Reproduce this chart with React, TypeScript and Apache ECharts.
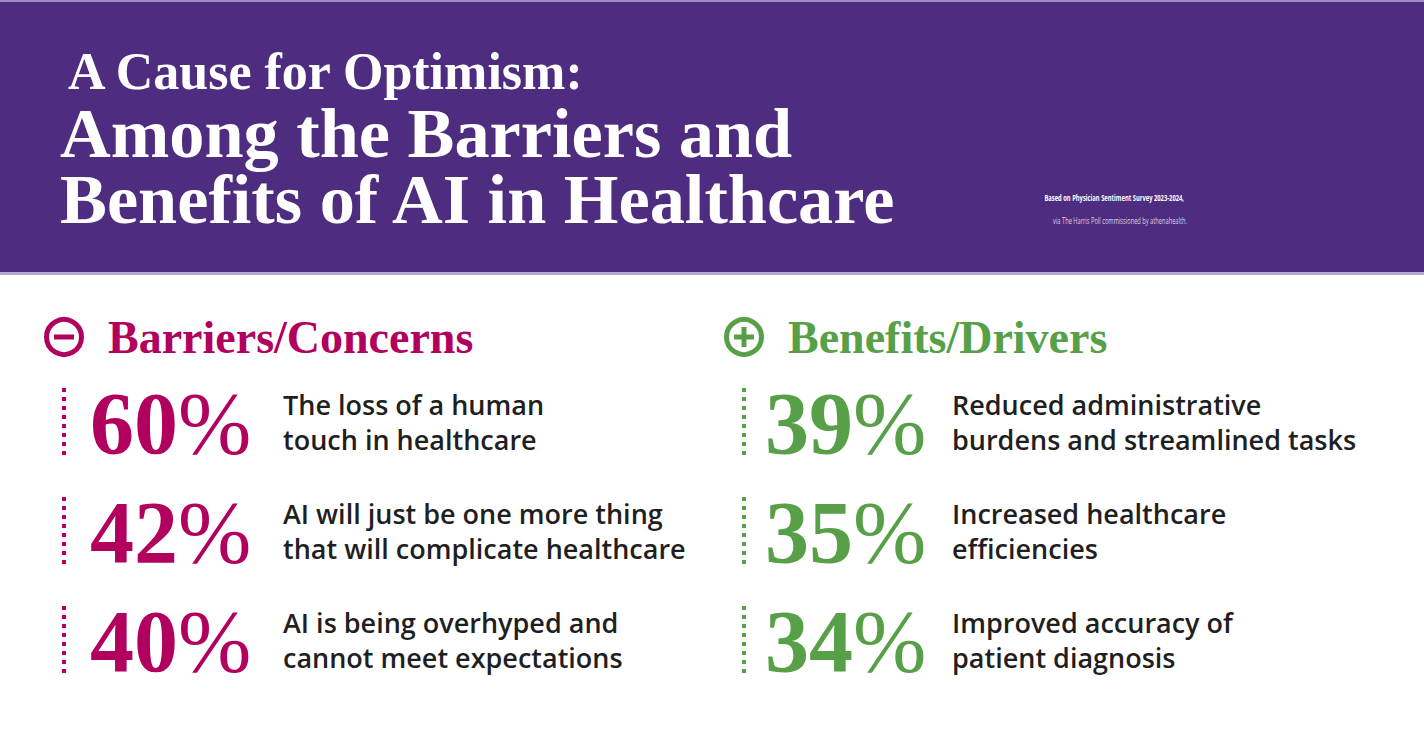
import React, { useEffect, useRef } from "react";
import * as echarts from "echarts";

const titleLines = ["A Cause for Optimism:", "Among the Barriers and", "Benefits of AI in Healthcare"];
const sourceLines = ["Based on Physician Sentiment Survey 2023-2024,", "via The Harris Poll commissioned by athenahealth."];
const sectionTitles = ["Barriers/Concerns", "Benefits/Drivers"];
const barrierValues = [60, 42, 40];
const barrierLabels = [
  ["The loss of a human", "touch in healthcare"],
  ["AI will just be one more thing", "that will complicate healthcare"],
  ["AI is being overhyped and", "cannot meet expectations"],
];
const benefitValues = [39, 35, 34];
const benefitLabels = [
  ["Reduced administrative", "burdens and streamlined tasks"],
  ["Increased healthcare", "efficiencies"],
  ["Improved accuracy of", "patient diagnosis"],
];

const PURPLE = "#4e2c80";
const MAGENTA = "#b1005e";
const GREEN = "#58a048";
const DARK = "#1f1f1f";
const SERIF = "'Liberation Serif', serif";
const SANS = "'Open Sans', sans-serif";

function txt(x: number, y: number, text: string, fontSize: number, fontWeight: any, fill: string, family: string, align = "left", extra: any = {}, el: any = {}) {
  return {
    type: "text",
    x,
    y,
    ...el,
    style: {
      text,
      fill,
      fontSize,
      fontWeight,
      fontFamily: family,
      align,
      verticalAlign: "middle",
      textAlign: align,
      textVerticalAlign: "middle",
      ...extra,
    },
  };
}

export default function App() {
  const ref = useRef<HTMLDivElement>(null);
  useEffect(() => {
    document.body.style.margin = "0";
    const chart = echarts.init(ref.current!, null, { renderer: "svg" });
    const els: any[] = [];
    els.push({ type: "rect", shape: { x: 0, y: 0, width: 1424, height: 273 }, style: { fill: PURPLE } });
    els.push({ type: "rect", shape: { x: 0, y: 0, width: 1424, height: 2 }, style: { fill: "#9d8bc2" } });
    els.push({ type: "rect", shape: { x: 0, y: 272, width: 1424, height: 3 }, style: { fill: "#b4a7d1" } });

    els.push(txt(68, 71, titleLines[0], 52, "bold", "#ffffff", SERIF, "left", { lineHeight: 50 }));
    els.push(txt(60, 166, titleLines[1] + "\n" + titleLines[2], 70.3, "bold", "#ffffff", SERIF, "left", { lineHeight: 66 }));

    els.push(txt(1184, 197, sourceLines[0], 9, "bold", "#ffffff", SANS, "right", {}, { scaleX: 0.645 }));
    els.push(txt(1187, 220, sourceLines[1], 9, "normal", "#ddd5ea", SANS, "right", {}, { scaleX: 0.635 }));

    const sections = [
      { cx: 64, color: MAGENTA, title: sectionTitles[0], values: barrierValues, labels: barrierLabels, plus: false, numDx: 26, txtDx: 219 },
      { cx: 744, color: GREEN, title: sectionTitles[1], values: benefitValues, labels: benefitLabels, plus: true, numDx: 21, txtDx: 208 },
    ];
    const rowCenters = [422, 531, 640];
    sections.forEach((s) => {
      els.push({ type: "circle", shape: { cx: s.cx, cy: 337, r: 17.5 }, style: { fill: "none", stroke: s.color, lineWidth: 5 } });
      els.push({ type: "rect", shape: { x: s.cx - 10, y: 334.5, width: 20, height: 5 }, style: { fill: s.color } });
      if (s.plus) {
        els.push({ type: "rect", shape: { x: s.cx - 2.5, y: 327, width: 5, height: 20 }, style: { fill: s.color } });
      }
      els.push(txt(s.cx + 44, 337, s.title, 46, "bold", s.color, SERIF));
      s.values.forEach((v, i) => {
        const cy = rowCenters[i];
        els.push({
          type: "line",
          shape: { x1: s.cx, y1: cy - 34, x2: s.cx, y2: cy + 34 },
          style: { stroke: s.color, lineWidth: 4, lineDash: [4, 5] },
        });
        els.push({
          type: "text",
          x: s.cx + s.numDx,
          y: cy + 1,
          style: {
            text: `{n|${v}}{p|%}`,
            align: "left",
            verticalAlign: "middle",
            textAlign: "left",
            textVerticalAlign: "middle",
            rich: {
              n: { fontSize: 88, fontWeight: "bold", fontFamily: SERIF, fill: s.color, color: s.color },
              p: { fontSize: 88, fontWeight: "normal", fontFamily: SERIF, fill: s.color, color: s.color },
            },
          },
        });
        els.push(txt(s.cx + s.txtDx, cy - 18, s.labels[i][0], 27, 600, DARK, SANS));
        els.push(txt(s.cx + s.txtDx, cy + 17, s.labels[i][1], 27, 600, DARK, SANS));
      });
    });

    chart.setOption({
      animation: false,
      backgroundColor: "#ffffff",
      graphic: { elements: els },
    });
    return () => chart.dispose();
  }, []);
  return <div ref={ref} style={{ position: "fixed", left: 0, top: 0, width: 1424, height: 746 }} />;
}
